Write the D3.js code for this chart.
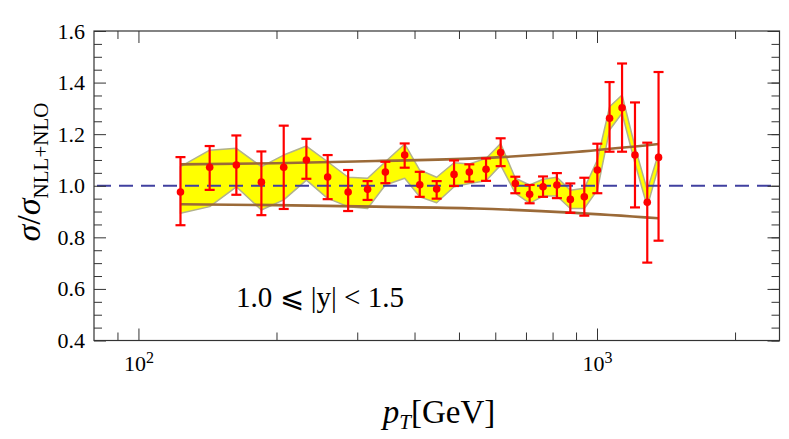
<!DOCTYPE html>
<html>
<head>
<meta charset="utf-8">
<script src="https://cdn.jsdelivr.net/npm/d3@7"></script>
<style>
  html, body { margin: 0; padding: 0; background: #fff; }
  svg { display: block; }
  text { font-family: "Liberation Serif", "DejaVu Serif", serif; fill: #000; }
</style>
</head>
<body>
<svg id="chart" width="789" height="439"></svg>
<script>
// ---- data ----
const pT = [123.5, 143, 163.5, 185.4, 207.4, 232.4, 258.6, 286.6, 316, 345.5,
            380.7, 410.6, 447, 487.8, 526.7, 572.8, 616.4, 663.5, 713, 762.6,
            817.5, 874.6, 938.2, 1001.6, 1065, 1134, 1210, 1287, 1362];
const ratio = [0.976, 1.072, 1.080, 1.014, 1.072, 1.100, 1.034, 0.976, 0.986, 1.053,
               1.119, 1.004, 0.987, 1.044, 1.053, 1.064, 1.129, 1.009, 0.967, 0.996,
               1.003, 0.947, 0.957, 1.061, 1.262, 1.302, 1.119, 0.936, 1.110];
const errHigh = [1.111, 1.154, 1.195, 1.133, 1.233, 1.182, 1.119, 1.061, 1.018, 1.093,
                 1.164, 1.054, 1.018, 1.098, 1.083, 1.106, 1.184, 1.035, 1.003, 1.036,
                 1.049, 1.009, 1.031, 1.163, 1.402, 1.474, 1.323, 1.167, 1.441];
const errLow = [0.847, 0.984, 0.965, 0.886, 0.910, 1.027, 0.948, 0.902, 0.945, 1.010,
                1.070, 0.957, 0.950, 0.999, 1.016, 1.019, 1.076, 0.971, 0.932, 0.957,
                0.952, 0.895, 0.884, 0.971, 1.132, 1.132, 0.916, 0.702, 0.787];
const bandHigh = [1.074, 1.138, 1.145, 1.074, 1.119, 1.154, 1.093, 1.033, 1.029, 1.093,
                  1.162, 1.061, 1.033, 1.089, 1.084, 1.106, 1.164, 1.029, 1.003, 1.025,
                  1.033, 0.983, 0.990, 1.100, 1.306, 1.352, 1.151, 0.983, 1.126];
const bandLow = [0.893, 0.919, 0.996, 0.906, 0.945, 1.022, 0.951, 0.919, 0.912, 1.003,
                 1.029, 0.957, 0.934, 0.996, 1.009, 1.019, 1.080, 0.971, 0.932, 0.960,
                 0.960, 0.912, 0.912, 0.983, 1.216, 1.281, 1.087, 0.919, 1.074];
const curvePT = [123.5, 199, 328.6, 542.8, 896.8, 1362];
const curveUpper = [1.083, 1.087, 1.096, 1.106, 1.131, 1.162];
const curveLower = [0.928, 0.925, 0.919, 0.912, 0.895, 0.874];
const yMajorTicks = [0.4, 0.6, 0.8, 1.0, 1.2, 1.4, 1.6];
const yMinorTicks = d3.range(0.4, 1.6001, 0.05).map(v => +v.toFixed(2));
const xMajorTicks = [100, 1000];
const xMinorTicks = [90, 200, 300, 400, 500, 600, 700, 800, 900, 2000];
const regionLabel = "1.0 \u2A7D |y| < 1.5";

// ---- layout ----
const svg = d3.select("#chart");
const L = 94, R = 779.5, T = 31, B = 340.5;
const x = d3.scaleLog().domain([80, 2500]).range([L, R]);
const y = d3.scaleLinear().domain([0.4, 1.6]).range([B, T]);

// band
const bandData = pT.map((p, i) => ({p, lo: bandLow[i], hi: bandHigh[i]}));
svg.append("path")
  .datum(bandData)
  .attr("d", d3.area().x(d => x(d.p)).y0(d => y(d.lo)).y1(d => y(d.hi)))
  .attr("fill", "#ffff00")
  .attr("stroke", "#b2b28c")
  .attr("stroke-width", 1.5)
  .attr("stroke-linejoin", "round");

// brown curves
const curveLine = d3.line().x(d => x(d[0])).y(d => y(d[1])).curve(d3.curveMonotoneX);
[curveUpper, curveLower].forEach(arr => {
  svg.append("path")
    .datum(curvePT.map((p, i) => [p, arr[i]]))
    .attr("d", curveLine)
    .attr("fill", "none")
    .attr("stroke", "#9b6a38")
    .attr("stroke-width", 2.6);
});

// dashed unity line
svg.append("line")
  .attr("x1", L + 3).attr("x2", R)
  .attr("y1", y(1.0)).attr("y2", y(1.0))
  .attr("stroke", "#4040a0")
  .attr("stroke-width", 2.2)
  .attr("stroke-dasharray", "14,8");

// error bars
const eb = svg.append("g").attr("stroke", "#ff0000").attr("stroke-width", 2.2);
pT.forEach((p, i) => {
  const cx = x(p);
  eb.append("line").attr("x1", cx).attr("x2", cx).attr("y1", y(errLow[i])).attr("y2", y(errHigh[i]));
  eb.append("line").attr("x1", cx - 5).attr("x2", cx + 5).attr("y1", y(errLow[i])).attr("y2", y(errLow[i]));
  eb.append("line").attr("x1", cx - 5).attr("x2", cx + 5).attr("y1", y(errHigh[i])).attr("y2", y(errHigh[i]));
});
svg.append("g").selectAll("circle").data(pT).join("circle")
  .attr("cx", d => x(d)).attr("cy", (d, i) => y(ratio[i])).attr("r", 3.8)
  .attr("fill", "#ff0000");

// axes (ticks inward)
function styleAxis(g) {
  g.select(".domain").remove();
  g.selectAll(".tick line").attr("stroke", "#333").attr("stroke-width", 1);
  g.selectAll(".tick text").style("font-family", "'Liberation Serif', serif").attr("fill", "#000");
}
// left
svg.append("g").attr("transform", `translate(${L},0)`)
  .call(d3.axisLeft(y).tickValues(yMinorTicks.filter(v => !yMajorTicks.some(m => Math.abs(m - v) < 1e-6))).tickSize(-8).tickFormat(""))
  .call(styleAxis);
svg.append("g").attr("transform", `translate(${L},0)`)
  .call(d3.axisLeft(y).tickValues(yMajorTicks).tickSize(-12).tickPadding(9).tickFormat(d3.format(".1f")))
  .call(styleAxis)
  .call(g => g.selectAll(".tick text").attr("font-size", 22));
// right
svg.append("g").attr("transform", `translate(${R},0)`)
  .call(d3.axisRight(y).tickValues(yMinorTicks).tickSize(-8).tickFormat(""))
  .call(styleAxis);
svg.append("g").attr("transform", `translate(${R},0)`)
  .call(d3.axisRight(y).tickValues(yMajorTicks).tickSize(-12).tickFormat(""))
  .call(styleAxis);
// bottom
svg.append("g").attr("transform", `translate(0,${B})`)
  .call(d3.axisBottom(x).tickValues(xMinorTicks).tickSize(-8).tickFormat(""))
  .call(styleAxis);
svg.append("g").attr("transform", `translate(0,${B})`)
  .call(d3.axisBottom(x).tickValues(xMajorTicks).tickSize(-12).tickPadding(10).tickFormat(""))
  .call(styleAxis)
  .call(g => g.selectAll(".tick text").each(function(d) {
    const t = d3.select(this).attr("font-size", 22).attr("dy", "0.95em");
    t.text(null);
    t.append("tspan").text("10");
    t.append("tspan").attr("font-size", 16).attr("dy", "-0.55em").text(String(Math.round(Math.log10(d))));
  }));
// top
svg.append("g").attr("transform", `translate(0,${T})`)
  .call(d3.axisTop(x).tickValues(xMinorTicks).tickSize(-8).tickFormat(""))
  .call(styleAxis);
svg.append("g").attr("transform", `translate(0,${T})`)
  .call(d3.axisTop(x).tickValues(xMajorTicks).tickSize(-12).tickFormat(""))
  .call(styleAxis);

// frame
svg.append("rect").attr("x", L).attr("y", T).attr("width", R - L).attr("height", B - T)
  .attr("fill", "none").attr("stroke", "#333").attr("stroke-width", 1.2);

// region label
svg.append("text").attr("x", 236).attr("y", 307).attr("font-size", 29).text(regionLabel);

// x title
const xt = svg.append("text").attr("x", 439).attr("y", 423).attr("text-anchor", "middle").attr("font-size", 33);
xt.append("tspan").attr("font-style", "italic").text("p");
xt.append("tspan").attr("font-style", "italic").attr("font-size", 21).attr("dy", 6).text("T");
xt.append("tspan").attr("dy", -6).text("[GeV]");

// y title
const yt = svg.append("text").attr("transform", "translate(40,172) rotate(-90)")
  .attr("text-anchor", "middle").attr("font-size", 34);
yt.append("tspan").attr("font-style", "italic").text("\u03C3");
yt.append("tspan").text("/");
yt.append("tspan").attr("font-style", "italic").text("\u03C3");
yt.append("tspan").attr("font-size", 21).attr("dy", 8).text("NLL+NLO");
</script>
</body>
</html>
